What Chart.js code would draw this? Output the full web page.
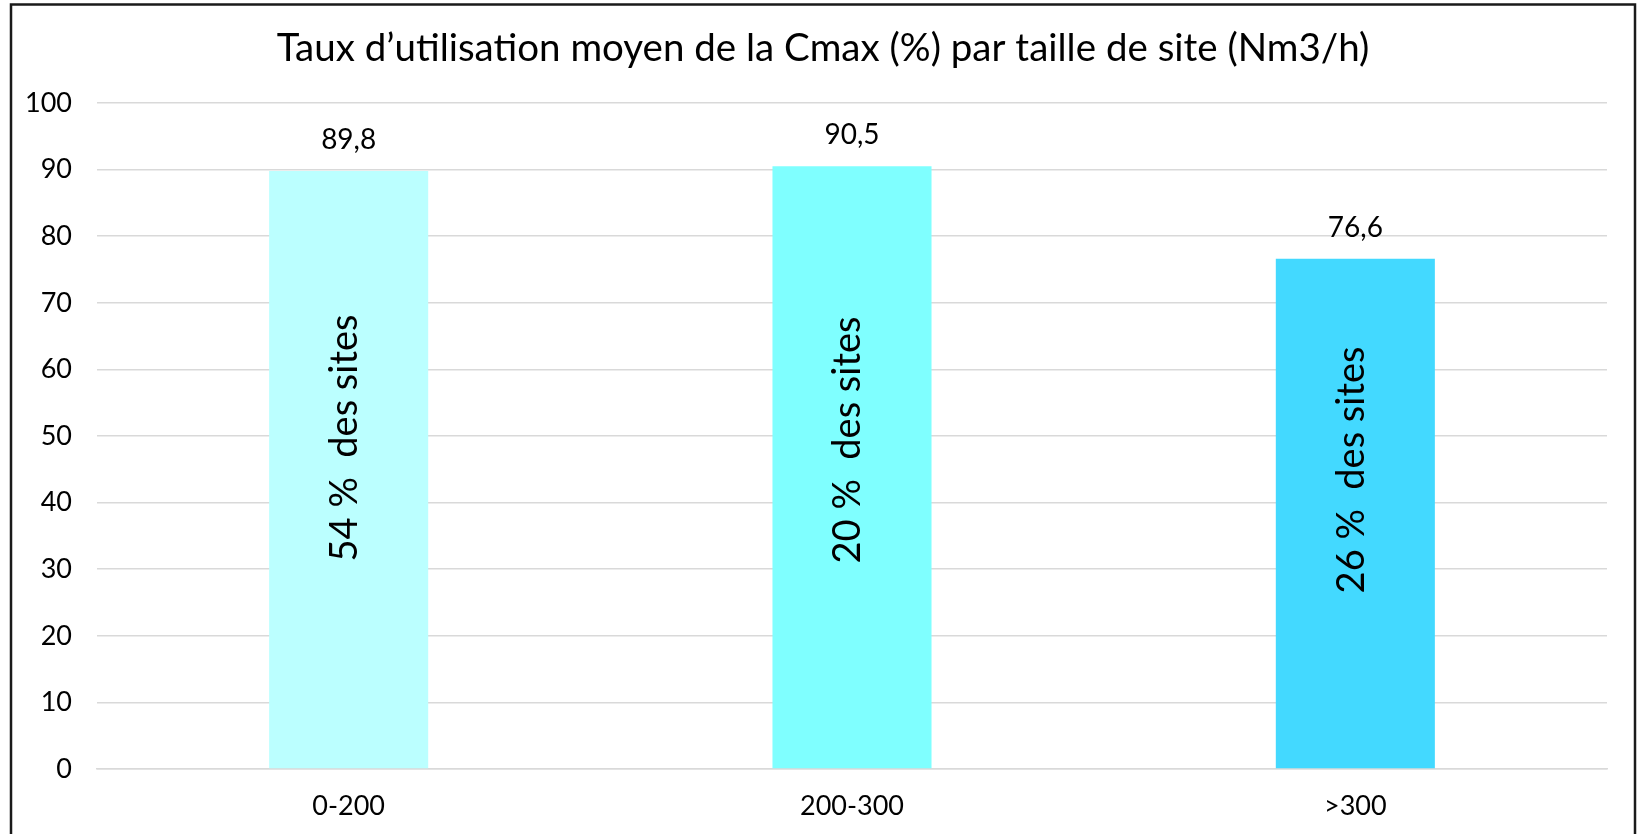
<!DOCTYPE html>
<html>
<head>
<meta charset="utf-8">
<script src="https://cdn.jsdelivr.net/npm/chart.js@4.4.1/dist/chart.umd.min.js"></script>
<style>
  html, body { margin: 0; padding: 0; background: #fff; }
  #wrap { position: relative; width: 1637px; height: 834px; }
</style>
</head>
<body>
<div id="wrap"><canvas id="graf"></canvas></div>
<script>
// données
const categories = ['0-200', '200-300', '>300'];
const tauxMoyen = [89.8, 90.5, 76.6];
const partSites = ['54 %  des sites', '20 %  des sites', '26 %  des sites'];
const centreTexte = [49.7, 49.4, 44.9];   // position du texte vertical (valeur de l'axe)
const couleurs = ['#bbffff', '#7fffff', '#43d9ff'];
const yTicks = [0, 10, 20, 30, 40, 50, 60, 70, 80, 90, 100];

const titre = 'Taux d\u2019utilisation moyen de la Cmax (%) par taille de site (Nm3/h)';
const POLICE = 'Lato, "Open Sans", sans-serif';

// fond blanc, cadre noir et titre
const cadre = {
    id: 'cadre',
    beforeDraw(chart) {
        const c = chart.ctx;
        c.save();
        c.fillStyle = '#fff';
        c.fillRect(0, 0, chart.width, chart.height);
        c.strokeStyle = '#1a1a1a';
        c.lineWidth = 2.5;
        c.strokeRect(11, 4.5, 1624, 860);
        c.fillStyle = '#000';
        c.font = '38.5px ' + POLICE;
        c.textAlign = 'center';
        c.textBaseline = 'middle';
        c.fillText(titre, 823, 49);
        c.restore();
    }
};

// étiquettes de valeur + texte vertical dans les barres
const etiquettes = {
    id: 'etiquettes',
    afterDatasetsDraw(chart) {
        const c = chart.ctx, y = chart.scales.y;
        const meta = chart.getDatasetMeta(0);
        c.save();
        c.fillStyle = '#000';
        meta.data.forEach((bar, i) => {
            c.font = '28px ' + POLICE;
            c.textAlign = 'center';
            c.textBaseline = 'middle';
            c.fillText(String(tauxMoyen[i]).replace('.', ','), bar.x, bar.y - 31);

            c.save();
            c.translate(bar.x - 4, y.getPixelForValue(centreTexte[i]));
            c.rotate(-Math.PI / 2);
            c.font = '38px ' + POLICE;
            c.fillText(partSites[i], 0, 0);
            c.restore();
        });
        c.restore();
    }
};

new Chart(document.getElementById('graf'), {
    type: 'bar',
    plugins: [cadre, etiquettes],
    data: {
        labels: categories,
        datasets: [{ data: tauxMoyen, backgroundColor: couleurs, barPercentage: 0.316, categoryPercentage: 1 }]
    },
    options: {
        responsive: true, maintainAspectRatio: false, animation: false,
        layout: { padding: { top: 103, right: 30, bottom: 0, left: 0 } },
        plugins: { legend: { display: false }, tooltip: { enabled: false } },
        scales: {
            x: {
                afterFit: s => { s.height = 65; },
                grid: { display: false },
                border: { color: '#d9d9d9', width: 1.5 },
                ticks: { color: '#000', padding: 13, font: { family: POLICE, size: 27 } }
            },
            y: {
                min: 0, max: 100,
                afterFit: s => { s.width = 97; },
                afterBuildTicks: s => { s.ticks = yTicks.map(v => ({ value: v })); },
                grid: { color: '#d9d9d9', lineWidth: 1.5, drawTicks: false },
                border: { display: false },
                ticks: { color: '#000', padding: 25, font: { family: POLICE, size: 27 } }
            }
        }
    }
});
</script>
</body>
</html>
